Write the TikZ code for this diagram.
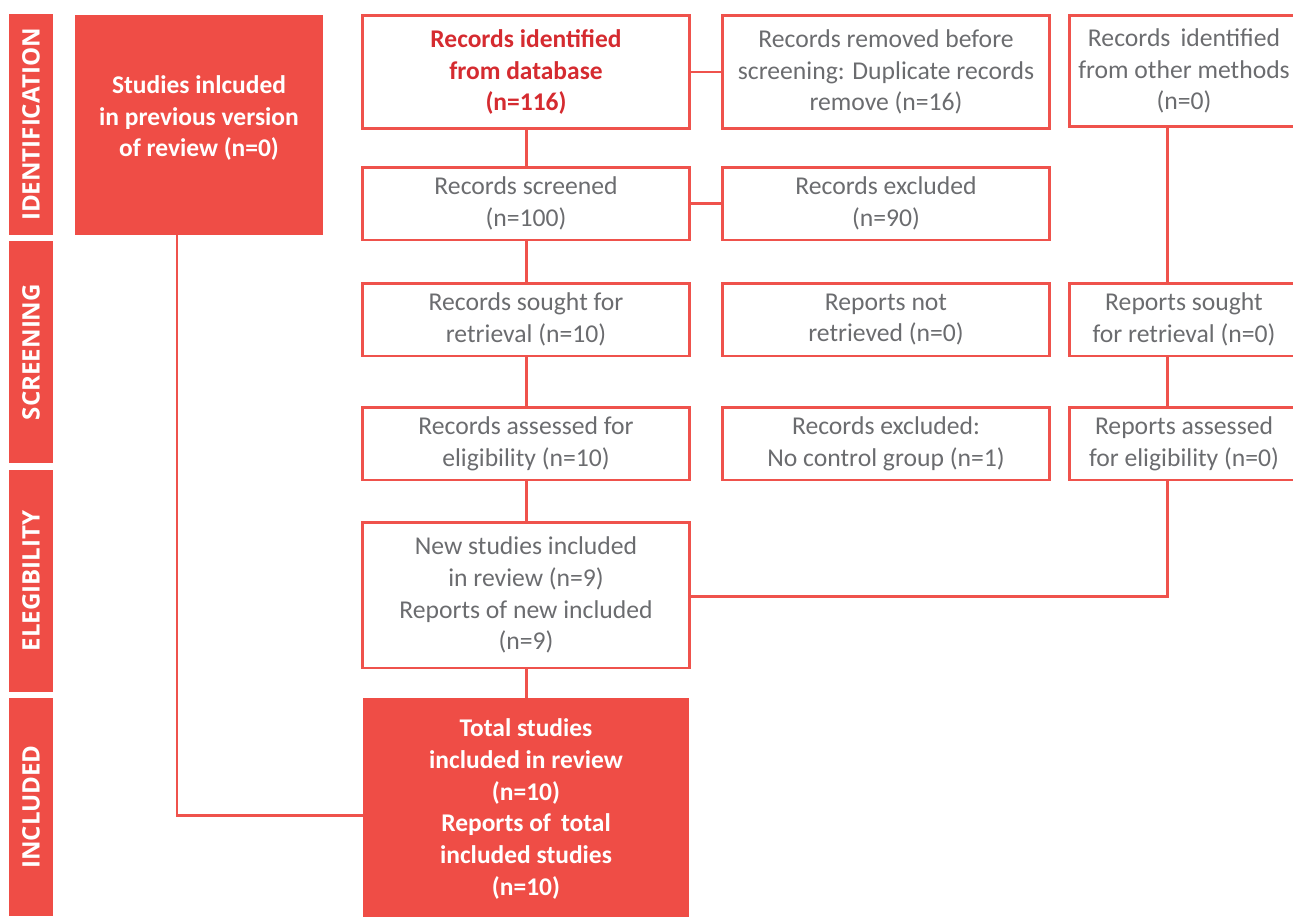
\documentclass[tikz,border=0pt]{standalone}
\usepackage{fontspec}
\setmainfont{Carlito}
\newfontfamily\barfont{Open Sans}
\definecolor{prismared}{HTML}{EF4D46}
\definecolor{prismaline}{HTML}{EF524C}
\definecolor{prismagrey}{HTML}{6B6C6F}
\definecolor{prismadark}{HTML}{D52B30}
\tikzset{
  box/.style={draw=prismaline, line width=1.7pt, text=prismagrey, align=center,
    inner sep=0pt, font=\fontsize{14.6}{18.1}\selectfont},
  filledbox/.style={fill=prismared, text=white, align=center, inner sep=0pt,
    font=\fontsize{14.5}{18.1}\selectfont\bfseries},
  phasebar/.style={fill=prismared, text=white, inner sep=0pt, minimum width=0.88cm,
    font=\barfont\fontsize{13.7}{16}\selectfont\bfseries},
  link/.style={draw=prismaline, line width=1.7pt}
}
\begin{document}
\begin{tikzpicture}[x=0.02cm, y=-0.02cm]
\useasboundingbox (0,0) rectangle (1293,916);
\clip (0,0) rectangle (1293,916);
% Phase bars on the left
\foreach \name/\yc/\h/\txt in {ident/124.5/221/IDENTIFICATION, screen/352/222/SCREENING,
    elig/581/222/ELEGIBILITY, incl/807/218/INCLUDED}
    \node[phasebar, minimum height=\h*0.02cm] (\name) at (31,\yc) {\rotatebox{90}{\txt}};
% Previous review
\node[filledbox, minimum width=4.96cm, minimum height=4.4cm] (prev) at (199,125)
    {Studies inlcuded\\in previous version\\of review (n=0)\\[-8pt]\mbox{}};
% Database column
\node[box, minimum width=6.56cm, minimum height=2.28cm, text=prismadark, font=\fontsize{14.5}{18.1}\selectfont\bfseries] (db) at (526,72)
    {Records identified\\from database\\(n=116)};
\node[box, minimum width=6.56cm, minimum height=1.46cm] (screened) at (526,203.5)
    {Records screened\\(n=100)};
\node[box, minimum width=6.56cm, minimum height=1.46cm] (sought) at (526,319.5)
    {Records sought for\\retrieval (n=10)};
\node[box, minimum width=6.56cm, minimum height=1.46cm] (assessed) at (526,443.5)
    {Records assessed for\\eligibility (n=10)};
\node[box, minimum width=6.56cm, minimum height=2.92cm] (newinc) at (526,595)
    {New studies included\\in review (n=9)\\Reports of new included\\(n=9)};
\node[filledbox, minimum width=6.52cm, minimum height=4.44cm] (total) at (526,809)
    {Total studies\\included in review\\(n=10)\\Reports of\, total\\included studies\\(n=10)};
% Excluded column
\node[box, minimum width=6.56cm, minimum height=2.28cm] (removed) at (886,72)
    {Records removed before\\screening: Duplicate records\\remove (n=16)};
\node[box, minimum width=6.56cm, minimum height=1.46cm] (excl) at (886,203.5)
    {Records excluded\\(n=90)};
\node[box, minimum width=6.56cm, minimum height=1.46cm] (notret) at (886,319.5)
    {Reports not\\retrieved (n=0)};
\node[box, minimum width=6.56cm, minimum height=1.46cm] (exclnc) at (886,443.5)
    {Records excluded:\\No control group (n=1)};
% Other methods column
\node[box, minimum width=4.6cm, minimum height=2.24cm] (other) at (1184,71)
    {Records\, identified\\from other methods\\(n=0)};
\node[box, minimum width=4.6cm, minimum height=1.46cm] (rsought) at (1184,319.5)
    {Reports sought\\for retrieval (n=0)};
\node[box, minimum width=4.6cm, minimum height=1.46cm] (rassessed) at (1184,443.5)
    {Reports assessed\\for eligibility (n=0)};
% Connectors
\draw[link] (db) -- (screened) -- (sought) -- (assessed) -- (newinc) -- (total);
\draw[link] (db.east) -- (removed.west);
\draw[link] (screened.east) -- (excl.west);
\coordinate (rline) at (1167,596);
\draw[link] (other.south -| rline) -- (rsought.north -| rline);
\draw[link] (rsought.south -| rline) -- (rassessed.north -| rline);
\draw[link] (rassessed.south -| rline) -- (rline) -- (newinc.east |- rline);
\coordinate (lline) at (177,815);
\draw[link] (prev.south -| lline) -- (lline) -- (total.west |- lline);
\end{tikzpicture}
\end{document}
